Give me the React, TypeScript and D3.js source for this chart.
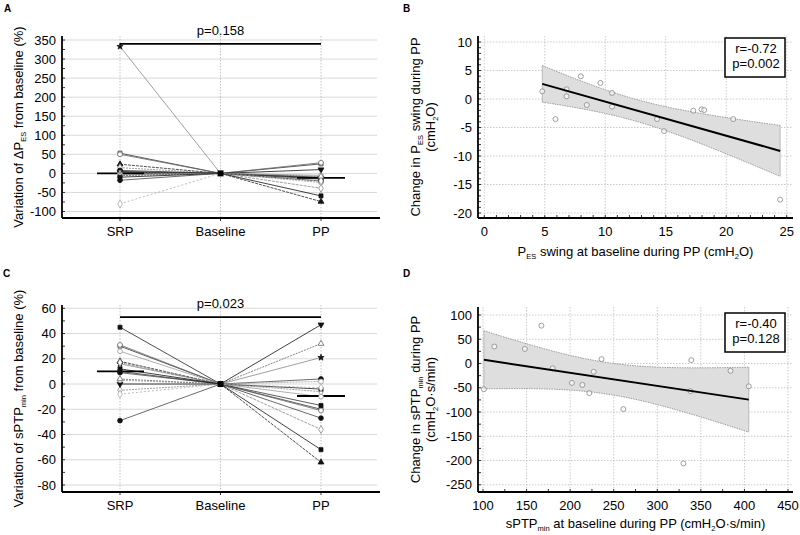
import React from "react";
import * as d3 from "d3";

// ---------- DATA ----------
const categories = ["SRP", "Baseline", "PP"];

// Panel A: variation of ΔPes from baseline (%), one value per patient
const srpA = [333, 53, 50, 24, 15, 8, 5, 3, 1, 0, -2, -4, -6, -10, -18, -80];
const ppA = [-12, 25, 28, -74, -20, -10, -12, 10, -24, -15, -39, -5, -8, -59, -20, -20];
const medianA = [0, -12];
const bracketA = 340;
const pTextA = "p=0.158";

// Panel C: variation of sPTPmin from baseline (%)
const srpC = [16, 30, 31, 18, -5, 9, 45, 0, 3, 10, 17, 26, 4, 12, -29, -8];
const ppC = [21, -20, -21, -62, -6, 4, -4, 47, 2, -17, -36, -10, 32, -52, -27, -3];
const medianC = [10, -9.5];
const bracketC = 53;
const pTextC = "p=0.023";

// Panel B scatter
const bX = [4.79, 5.89, 6.8, 6.8, 7.98, 8.47, 9.6, 10.56, 10.56, 14.28, 14.86, 17.28, 17.96, 18.18, 20.58, 24.46];
const bY = [1.35, -3.52, 1.7, 0.47, 3.99, -1.06, 2.82, 1.06, -1.35, -3.52, -5.63, -2.05, -1.82, -1.94, -3.52, -17.66];
const statsB = ["r=-0.72", "p=0.002"];

// Panel D scatter
const dX = [101, 113, 148, 167, 180, 202, 214, 222, 227, 236, 261, 330, 339, 338, 384, 405];
const dY = [-53, 35, 30, 78, -10, -40, -44, -61, -17, 9, -94, -206, 7, -57, -15, -47];
const statsD = ["r=-0.40", "p=0.128"];

const ticksA = [-100, -50, 0, 50, 100, 150, 200, 250, 300, 350];
const ticksC = [-80, -60, -40, -20, 0, 20, 40, 60];
const ticksBx = [0, 5, 10, 15, 20, 25];
const ticksBy = [-20, -15, -10, -5, 0, 5, 10];
const ticksDx = [100, 150, 200, 250, 300, 350, 400, 450];
const ticksDy = [-250, -200, -150, -100, -50, 0, 50, 100];

// titles as segments: [text, isSubscript]
const titleA: [string, boolean][] = [["Variation of ΔP", false], ["ES", true], [" from baseline (%)", false]];
const titleC: [string, boolean][] = [["Variation of sPTP", false], ["min", true], [" from baseline (%)", false]];
const titleB1: [string, boolean][] = [["Change in P", false], ["ES", true], [" swing during PP", false]];
const titleB2: [string, boolean][] = [["(cmH", false], ["2", true], ["O)", false]];
const titleBx: [string, boolean][] = [["P", false], ["ES", true], [" swing at baseline during PP (cmH", false], ["2", true], ["O)", false]];
const titleD1: [string, boolean][] = [["Change in sPTP", false], ["min", true], [" during PP", false]];
const titleD2: [string, boolean][] = [["(cmH", false], ["2", true], ["O·s/min)", false]];
const titleDx: [string, boolean][] = [["sPTP", false], ["min", true], [" at baseline during PP (cmH", false], ["2", true], ["O·s/min)", false]];

// ---------- STYLES ----------
const patientShapes = ["star", "square", "circle", "triangle", "diamond", "circle", "square", "triangleDown", "circle", "square", "diamond", "circle", "triangle", "square", "circle", "diamond"];
const patientFilled = [true, false, false, true, false, true, true, true, false, true, false, false, false, true, true, false];
const patientStroke = ["#888", "#333", "#666", "#222", "#888", "#444", "#222", "#111", "#999", "#333", "#888", "#999", "#666", "#111", "#444", "#aaa"];
const patientDash = ["", "", "", "3,1", "2,1", "", "", "", "2,1", "", "3,1", "", "2,1", "", "", "2,2"];

const FONT = "'Liberation Sans', Arial, Helvetica, sans-serif";
const FS = 13;

function Segs({ segs }: { segs: [string, boolean][] }) {
  let prevSub = false;
  return (
    <>
      {segs.map(([t, isSub], k) => {
        const dy = isSub && !prevSub ? 2.5 : !isSub && prevSub ? -2.5 : 0;
        prevSub = isSub;
        return (
          <tspan key={k} dy={dy} fontSize={isSub ? 7.5 : FS}>{t}</tspan>
        );
      })}
    </>
  );
}

function symbolPath(shape: string) {
  const map: any = {
    star: d3.symbolStar,
    square: d3.symbolSquare,
    circle: d3.symbolCircle,
    triangle: d3.symbolTriangle,
    triangleDown: d3.symbolTriangle,
    diamond: d3.symbolDiamond,
    cross: d3.symbolCross,
  };
  const size = shape === "star" ? 12 : shape === "square" ? 16 : shape.startsWith("triangle") ? 15 : 18;
  return d3.symbol().type(map[shape] || d3.symbolCircle).size(size)() as string;
}

function Marker({ x, y, i }: { x: number; y: number; i: number }) {
  const shape = patientShapes[i];
  const rot = shape === "triangleDown" ? 180 : 0;
  return (
    <path
      d={symbolPath(shape)}
      transform={`translate(${x},${y}) rotate(${rot})`}
      fill={patientFilled[i] ? "#111" : "#fff"}
      stroke={patientFilled[i] ? "#111" : patientStroke[i]}
      strokeWidth={0.8}
    />
  );
}

type PairedProps = {
  srp: number[];
  pp: number[];
  medians: number[];
  bracket: number;
  pText: string;
  ticks: number[];
  minorStep: number;
  yDomain: [number, number];
  yRange: [number, number];
  left: number;
  right: number;
  top: number;
  bottom: number;
  catX: [number, number];
  label: string;
  labelY: number;
  title: [string, boolean][];
  titleX: number;
};

function PairedPanel(p: PairedProps) {
  const y = d3.scaleLinear().domain(p.yDomain).range(p.yRange);
  const x = d3.scalePoint<string>().domain(categories).range(p.catX);
  const minors = d3.range(p.yDomain[0], p.yDomain[1] + 0.001, p.minorStep);
  const xs = x("SRP")!, xb = x("Baseline")!, xp = x("PP")!;
  return (
    <g>
      <text x={p.label === "C" ? 3 : 4} y={p.labelY} fontFamily={FONT} fontSize={10} fontWeight="bold">{p.label}</text>
      {p.ticks.map((t) => (
        <line key={"g" + t} x1={p.left} x2={p.right - 3} y1={y(t)} y2={y(t)} stroke="#cfcfcf" strokeWidth={0.8} />
      ))}
      {categories.map((c) => (
        <line key={"v" + c} x1={x(c)} x2={x(c)} y1={p.top} y2={p.bottom} stroke="#aaa" strokeWidth={0.7} strokeDasharray="1.5,1.5" />
      ))}
      {p.srp.map((v, i) => (
        <g key={"l" + i}>
          <line x1={xs} y1={y(v)} x2={xb} y2={y(0)} stroke={patientStroke[i]} strokeWidth={0.8} strokeDasharray={patientDash[i]} />
          <line x1={xb} y1={y(0)} x2={xp} y2={y(p.pp[i])} stroke={patientStroke[i]} strokeWidth={0.8} strokeDasharray={patientDash[i]} />
        </g>
      ))}
      <line x1={xs - 23} x2={xs + 24} y1={y(p.medians[0])} y2={y(p.medians[0])} stroke="#000" strokeWidth={1.8} />
      <line x1={xp - 24} x2={xp + 24} y1={y(p.medians[1])} y2={y(p.medians[1])} stroke="#000" strokeWidth={1.8} />
      {p.srp.map((v, i) => <Marker key={"ms" + i} x={xs} y={y(v)} i={i} />)}
      {p.pp.map((v, i) => <Marker key={"mp" + i} x={xp} y={y(v)} i={i} />)}
      <rect x={xb - 3} y={y(0) - 3} width={6} height={6} fill="#000" />
      <line x1={xs} x2={xp} y1={y(p.bracket)} y2={y(p.bracket)} stroke="#000" strokeWidth={1.8} />
      <text x={xb} y={y(p.bracket) - 9} textAnchor="middle" fontFamily={FONT} fontSize={FS}>{p.pText}</text>
      <line x1={p.left} x2={p.left} y1={p.top} y2={p.bottom} stroke="#000" strokeWidth={1.8} />
      <line x1={p.left} x2={p.right} y1={p.bottom} y2={p.bottom} stroke="#000" strokeWidth={1.8} />
      {minors.map((t) => (
        <line key={"mt" + t} x1={p.left} x2={p.left + 3} y1={y(t)} y2={y(t)} stroke="#000" strokeWidth={0.8} />
      ))}
      {p.ticks.map((t) => (
        <text key={"tl" + t} x={p.left - 6} y={y(t) + 4.5} textAnchor="end" fontFamily={FONT} fontSize={FS}>{t}</text>
      ))}
      {categories.map((c) => (
        <g key={"c" + c}>
          <line x1={x(c)} x2={x(c)} y1={p.bottom} y2={p.bottom + 3} stroke="#000" strokeWidth={0.8} />
          <text x={x(c)} y={p.bottom + 18} textAnchor="middle" fontFamily={FONT} fontSize={FS}>{c}</text>
        </g>
      ))}
      <text transform={`translate(${p.titleX},${(p.top + p.bottom) / 2}) rotate(-90)`} textAnchor="middle" fontFamily={FONT} fontSize={FS}>
        <Segs segs={p.title} />
      </text>
    </g>
  );
}

function regression(xs: number[], ys: number[]) {
  const n = xs.length;
  const mx = d3.mean(xs)!, my = d3.mean(ys)!;
  let sxx = 0, sxy = 0;
  xs.forEach((v, i) => { sxx += (v - mx) ** 2; sxy += (v - mx) * (ys[i] - my); });
  const b = sxy / sxx, a = my - b * mx;
  let sse = 0;
  xs.forEach((v, i) => { sse += (ys[i] - a - b * v) ** 2; });
  const s = Math.sqrt(sse / (n - 2));
  const t = 2.145;
  const f = (x: number) => a + b * x;
  const hw = (x: number) => t * s * Math.sqrt(1 / n + (x - mx) ** 2 / sxx);
  return { f, hw };
}

type ScatterProps = {
  xs: number[];
  ys: number[];
  stats: string[];
  xTicks: number[];
  yTicks: number[];
  xMinor: number;
  yMinor: number;
  xDomain: [number, number];
  xRange: [number, number];
  yDomain: [number, number];
  yRange: [number, number];
  left: number;
  right: number;
  top: number;
  bottom: number;
  label: string;
  labelY: number;
  yTitle1: [string, boolean][];
  yTitle2: [string, boolean][];
  xTitle: [string, boolean][];
  xTitleY: number;
  boxTop: number;
};

function ScatterPanel(p: ScatterProps) {
  const x = d3.scaleLinear().domain(p.xDomain).range(p.xRange);
  const y = d3.scaleLinear().domain(p.yDomain).range(p.yRange);
  const { f, hw } = regression(p.xs, p.ys);
  const x0 = d3.min(p.xs)!, x1 = d3.max(p.xs)!;
  const samples = d3.range(0, 61).map((k) => x0 + ((x1 - x0) * k) / 60);
  const area = d3.area<number>().x((v) => x(v)).y0((v) => y(f(v) - hw(v))).y1((v) => y(f(v) + hw(v)));
  const upper = d3.line<number>().x((v) => x(v)).y((v) => y(f(v) + hw(v)));
  const lower = d3.line<number>().x((v) => x(v)).y((v) => y(f(v) - hw(v)));
  const xMin = d3.range(p.xDomain[0], p.xDomain[1] + 0.001, p.xMinor);
  const yMin = d3.range(p.yDomain[0], p.yDomain[1] + 0.001, p.yMinor);
  const midY = (p.top + p.bottom) / 2;
  const midX = (p.left + p.right) / 2;
  return (
    <g>
      <text x={403} y={p.labelY} fontFamily={FONT} fontSize={10} fontWeight="bold">{p.label}</text>
      {p.yTicks.map((t) => (
        <line key={"gy" + t} x1={p.left} x2={p.right} y1={y(t)} y2={y(t)} stroke="#b5b5b5" strokeWidth={0.7} strokeDasharray="1.5,1.5" />
      ))}
      {p.xTicks.map((t) => (
        <line key={"gx" + t} x1={x(t)} x2={x(t)} y1={p.top} y2={p.bottom} stroke="#b5b5b5" strokeWidth={0.7} strokeDasharray="1.5,1.5" />
      ))}
      <path d={area(samples)!} fill="#dedede" />
      <path d={upper(samples)!} fill="none" stroke="#888" strokeWidth={0.8} strokeDasharray="1.5,1" />
      <path d={lower(samples)!} fill="none" stroke="#888" strokeWidth={0.8} strokeDasharray="1.5,1" />
      <line x1={x(x0)} x2={x(x0)} y1={y(f(x0) - hw(x0))} y2={y(f(x0) + hw(x0))} stroke="#999" strokeWidth={0.6} />
      <line x1={x(x1)} x2={x(x1)} y1={y(f(x1) - hw(x1))} y2={y(f(x1) + hw(x1))} stroke="#999" strokeWidth={0.6} />
      {p.xs.map((v, i) => (
        <circle key={"p" + i} cx={x(v)} cy={y(p.ys[i])} r={2.5} fill="#fff" fillOpacity={0.6} stroke="#888" strokeWidth={0.8} />
      ))}
      <line x1={x(x0)} x2={x(x1)} y1={y(f(x0))} y2={y(f(x1))} stroke="#000" strokeWidth={2} />
      <rect x={725} y={p.boxTop} width={60} height={39} fill="#fff" stroke="#000" strokeWidth={1.5} />
      <text x={756} y={p.boxTop + 15} textAnchor="middle" fontFamily={FONT} fontSize={FS}>{p.stats[0]}</text>
      <text x={756} y={p.boxTop + 30} textAnchor="middle" fontFamily={FONT} fontSize={FS}>{p.stats[1]}</text>
      <line x1={p.left} x2={p.left} y1={p.top} y2={p.bottom} stroke="#000" strokeWidth={1.8} />
      <line x1={p.left} x2={p.right} y1={p.bottom} y2={p.bottom} stroke="#000" strokeWidth={1.8} />
      {yMin.map((t) => (
        <line key={"ym" + t} x1={p.left} x2={p.left + 3} y1={y(t)} y2={y(t)} stroke="#000" strokeWidth={0.8} />
      ))}
      {xMin.map((t) => (
        <line key={"xm" + t} x1={x(t)} x2={x(t)} y1={p.bottom} y2={p.bottom - 3} stroke="#000" strokeWidth={0.8} />
      ))}
      {p.yTicks.map((t) => (
        <text key={"yl" + t} x={p.left - 6} y={y(t) + 4.5} textAnchor="end" fontFamily={FONT} fontSize={FS}>{t}</text>
      ))}
      {p.xTicks.map((t) => (
        <text key={"xl" + t} x={x(t)} y={p.bottom + 18} textAnchor="middle" fontFamily={FONT} fontSize={FS}>{t}</text>
      ))}
      <text x={midX} y={p.xTitleY} textAnchor="middle" fontFamily={FONT} fontSize={FS}><Segs segs={p.xTitle} /></text>
      <text transform={`translate(420,${midY}) rotate(-90)`} textAnchor="middle" fontFamily={FONT} fontSize={FS}><Segs segs={p.yTitle1} /></text>
      <text transform={`translate(435,${midY}) rotate(-90)`} textAnchor="middle" fontFamily={FONT} fontSize={FS}><Segs segs={p.yTitle2} /></text>
    </g>
  );
}

export default function App() {
  return (
    <svg width={800} height={535} style={{ position: "absolute", left: 0, top: 0, background: "#fff" }}>
      <rect width={800} height={535} fill="#fff" />
      <PairedPanel
        srp={srpA} pp={ppA} medians={medianA} bracket={bracketA} pText={pTextA}
        ticks={ticksA} minorStep={25} yDomain={[-100, 350]} yRange={[211.5, 40]}
        left={62} right={380} top={36} bottom={218} catX={[120, 321]}
        label="A" labelY={12} titleX={23} title={titleA}
      />
      <PairedPanel
        srp={srpC} pp={ppC} medians={medianC} bracket={bracketC} pText={pTextC}
        ticks={ticksC} minorStep={10} yDomain={[-80, 60]} yRange={[485, 308.3]}
        left={62} right={380} top={305} bottom={492} catX={[120, 321]}
        label="C" labelY={277} titleX={23} title={titleC}
      />
      <ScatterPanel
        xs={bX} ys={bY} stats={statsB}
        xTicks={ticksBx} yTicks={ticksBy} xMinor={1} yMinor={1}
        xDomain={[0, 25]} xRange={[484.3, 786.7]} yDomain={[-20, 10]} yRange={[213, 42]}
        left={478} right={793} top={36} bottom={218}
        label="B" labelY={12}
        yTitle1={titleB1} yTitle2={titleB2} xTitle={titleBx}
        xTitleY={256} boxTop={38}
      />
      <ScatterPanel
        xs={dX} ys={dY} stats={statsD}
        xTicks={ticksDx} yTicks={ticksDy} xMinor={25} yMinor={25}
        xDomain={[100, 450]} xRange={[483, 788]} yDomain={[-250, 100]} yRange={[484.8, 315]}
        left={478} right={793} top={307} bottom={492}
        label="D" labelY={277}
        yTitle1={titleD1} yTitle2={titleD2} xTitle={titleDx}
        xTitleY={528} boxTop={313}
      />
    </svg>
  );
}
